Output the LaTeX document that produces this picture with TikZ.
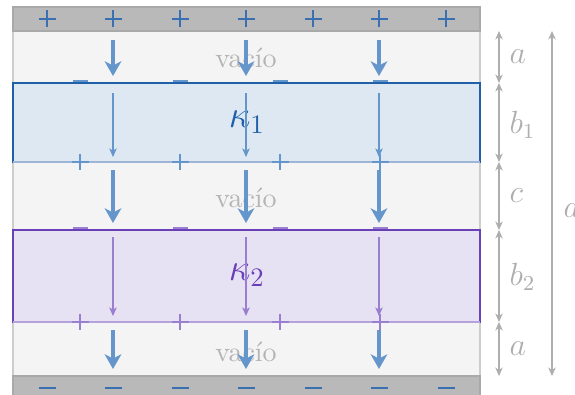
\documentclass[tikz,border=0pt]{standalone}
\usepackage{fontspec}
\usetikzlibrary{arrows.meta}
\definecolor{plate}{HTML}{B9B9B9}
\definecolor{plateb}{HTML}{A9A9A9}
\definecolor{vac}{HTML}{F4F4F4}
\definecolor{vacb}{HTML}{CDCDCD}
\definecolor{kaf}{HTML}{DEE8F3}
\definecolor{kab}{HTML}{2060A8}
\definecolor{kal}{HTML}{9DB6D8}
\definecolor{kbf}{HTML}{E7E2F3}
\definecolor{kbb}{HTML}{6A40B8}
\definecolor{kbl}{HTML}{B4A2DA}
\definecolor{field}{HTML}{6496CC}
\definecolor{fieldb}{HTML}{9A7ED0}
\definecolor{chg}{HTML}{3A70B2}
\definecolor{dimc}{HTML}{AEAEAE}
\definecolor{vtext}{HTML}{B4B4B4}
\tikzset{
  platebox/.style={fill=plate,draw=plateb,line width=0.5pt},
  vacbox/.style={fill=vac,draw=vacb,line width=0.6pt},
  thickarrow/.style={draw=field,line width=1.35pt,-{Stealth[length=5.5pt,width=6.2pt,inset=1.6pt]}},
  thinarrow/.style={line width=0.4pt,-{Stealth[length=3.2pt,width=2.8pt,inset=0.8pt]}},
  dimarrow/.style={draw=dimc,line width=0.4pt,{Stealth[length=3.2pt,width=2.8pt,inset=1pt]}-{Stealth[length=3.2pt,width=2.8pt,inset=1pt]}},
  chargeline/.style={line width=0.4pt},
  vactext/.style={text=vtext,font=\fontsize{10.5}{12}\selectfont,inner sep=0pt},
  kaptext/.style={font=\fontsize{14}{16}\selectfont,inner sep=0pt},
  dimtext/.style={text=dimc,font=\fontsize{11.5}{13}\selectfont,inner sep=0pt,anchor=west}
}
\begin{document}
\begin{tikzpicture}[x=0.375pt,y=-0.375pt]
\useasboundingbox (0,0) rectangle (575,395);
% levels
\coordinate (t0) at (499,31);
\coordinate (t1) at (499,83);
\coordinate (t2) at (499,162);
\coordinate (t3) at (499,230);
\coordinate (t4) at (499,322);
\coordinate (t5) at (499,376);
\coordinate (dtop) at (552,31);
\coordinate (dbot) at (552,376);
% vacuum
\path[vacbox] (13,31) rectangle (480,376);
% plates
\path[platebox] (13,7) rectangle (480,31);
\path[platebox] (13,376) rectangle (480,400);
% dielectrics
\path[fill=kaf,draw=kab,line width=0.6pt] (13,83) rectangle (480,162);
\draw[kal,line width=0.6pt] (13.4,162) -- (479.6,162);
\path[fill=kbf,draw=kbb,line width=0.6pt] (13,230) rectangle (480,322);
\draw[kbl,line width=0.6pt] (13.4,322) -- (479.6,322);
% texts
\node[vactext] (v1) at (246,58) {vacío};
\node[vactext] (v2) at (246,198) {vacío};
\node[vactext] (v3) at (246,352) {vacío};
\node[kaptext,text=kab] (k1) at (247,122) {$\kappa_1$};
\node[kaptext,text=kbb] (k2) at (247,275) {$\kappa_2$};
% plate charges
\foreach \x in {47,113,180,246,313,379,446}{
  \draw[chargeline,chg] (\x-8.5,19) -- (\x+8.5,19) (\x,10.5) -- (\x,27.5);
  \draw[chargeline,chg] (\x-8.5,388) -- (\x+8.5,388);
}
% dielectric charges
\foreach \x in {80,180,280,380}{
  \draw[draw=field,line width=0.75pt] (\x-7.5,81.3) -- (\x+7.5,81.3);
  \draw[chargeline,draw=field] (\x-8.5,162) -- (\x+8.5,162) (\x,154) -- (\x,170);
  \draw[draw=fieldb,line width=0.75pt] (\x-7.5,228.3) -- (\x+7.5,228.3);
  \draw[chargeline,draw=fieldb] (\x-8.5,322) -- (\x+8.5,322) (\x,314) -- (\x,330);
}
% field arrows
\foreach \x in {113,246,379}{
  \draw[thickarrow] (\x,40) -- (\x,76);
  \draw[thinarrow,draw=field] (\x,93) -- (\x,157);
  \draw[thickarrow] (\x,170) -- (\x,223);
  \draw[thinarrow,draw=fieldb] (\x,237) -- (\x,316);
  \draw[thickarrow] (\x,330) -- (\x,369);
}
% dimensions
\draw[dimarrow] (t0) -- (t1);
\draw[dimarrow] (t1) -- (t2);
\draw[dimarrow] (t2) -- (t3);
\draw[dimarrow] (t3) -- (t4);
\draw[dimarrow] (t4) -- (t5);
\draw[dimarrow] (dtop) -- (dbot);
\node[dimtext] (la1) at (509,57) {$a$};
\node[dimtext] (lb1) at (509,125) {$b_1$};
\node[dimtext] (lc) at (509,196) {$c$};
\node[dimtext] (lb2) at (509,277) {$b_2$};
\node[dimtext] (la2) at (509,349) {$a$};
\node[dimtext] (ld) at (563,206) {$d$};
\end{tikzpicture}
\end{document}
